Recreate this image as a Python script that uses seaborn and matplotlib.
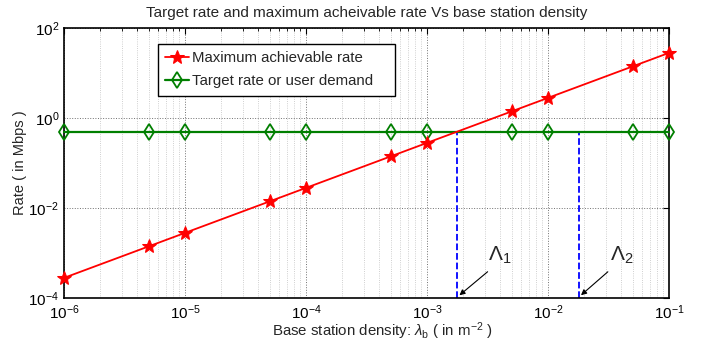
import matplotlib
matplotlib.use("Agg")
import matplotlib.pyplot as plt
import matplotlib.ticker as mticker
import seaborn as sns
import numpy as np

# Data
density = [1e-6, 5e-6, 1e-5, 5e-5, 1e-4, 5e-4, 1e-3, 5e-3, 1e-2, 5e-2, 1e-1]
max_rate = [2.8e-4, 1.4e-3, 2.8e-3, 1.4e-2, 2.8e-2, 0.14, 0.28, 1.4, 2.8, 14, 28]
target_rate = [0.5, 0.5, 0.5, 0.5, 0.5, 0.5, 0.5, 0.5, 0.5, 0.5, 0.5]
lambda_marks = [1.78e-3, 1.8e-2]
lambda_labels = ["Λ$_1$", "Λ$_2$"]
x_ticks = [1e-6, 1e-5, 1e-4, 1e-3, 1e-2, 1e-1]
y_ticks = [1e-4, 1e-2, 1e0, 1e2]

sns.set_theme(style="white")
plt.rcParams['font.family'] = ['Liberation Sans', 'DejaVu Sans']
plt.rcParams['mathtext.fontset'] = 'custom'
plt.rcParams['mathtext.rm'] = 'Liberation Sans'
plt.rcParams['mathtext.it'] = 'Liberation Sans:italic'
plt.rcParams['mathtext.default'] = 'regular'

fig = plt.figure(figsize=(7.02, 3.41), dpi=100)
ax = fig.add_axes([64/702, 1-298/341, 605/702, 270/341])

sns.lineplot(x=density, y=max_rate, ax=ax, color='red', marker='*', markersize=10,
             markeredgecolor='red', markerfacecolor='red', linewidth=1.3,
             label='Maximum achievable rate', clip_on=False, zorder=4)
sns.lineplot(x=density, y=target_rate, ax=ax, color='#007f00', marker='d', markersize=8,
             markeredgecolor='#007f00', markerfacecolor='none', markeredgewidth=1.3,
             linewidth=1.6, label='Target rate or user demand', clip_on=False, zorder=3)

ax.set_xscale('log')
ax.set_yscale('log')
ax.set_xlim(1e-6, 1e-1)
ax.set_ylim(1e-4, 1e2)

# blue dashed verticals
for lm in lambda_marks:
    ax.plot([lm, lm], [1e-4, target_rate[0]], color='blue', linestyle='--', linewidth=1.3, zorder=2)

# annotations
ax.annotate("", xy=(lambda_marks[0], 1.05e-4), xytext=(3.3e-3, 4.2e-4),
            arrowprops=dict(arrowstyle='-|>', color='black', lw=0.8, mutation_scale=8))
ax.annotate("", xy=(lambda_marks[1], 1.05e-4), xytext=(3.25e-2, 4.2e-4),
            arrowprops=dict(arrowstyle='-|>', color='black', lw=0.8, mutation_scale=8))
ax.text(4.0e-3, 9e-4, lambda_labels[0], fontsize=15, ha='center', va='center')
ax.text(4.1e-2, 9e-4, lambda_labels[1], fontsize=15, ha='center', va='center')

ax.xaxis.set_major_locator(mticker.FixedLocator(x_ticks))
ax.xaxis.set_minor_locator(mticker.LogLocator(base=10, subs=np.arange(2, 10), numticks=20))
ax.xaxis.set_major_formatter(mticker.LogFormatterSciNotation())
ax.xaxis.set_minor_formatter(mticker.NullFormatter())
ax.yaxis.set_major_locator(mticker.FixedLocator(y_ticks))
ax.yaxis.set_major_formatter(mticker.LogFormatterSciNotation())
ax.yaxis.set_minor_locator(mticker.NullLocator())

ax.grid(True, which='major', axis='both', color='#707070', linestyle=':', linewidth=0.7)
ax.grid(True, which='minor', axis='x', color='#c0c0c0', linestyle=':', linewidth=0.6)
ax.set_axisbelow(True)

ax.tick_params(which='both', direction='in', top=True, right=True, colors='black',
               labelsize=11)
ax.tick_params(axis='y', pad=3.5)
ax.tick_params(axis='x', pad=4)
ax.tick_params(which='major', length=4, width=0.8)
ax.tick_params(which='minor', length=2.5, width=0.6)
for s in ax.spines.values():
    s.set_color('black')
    s.set_linewidth(1.2)

ax.set_title('Target rate and maximum acheivable rate Vs base station density', fontsize=11, pad=8)
ax.set_xlabel('Base station density: $\\mathit{\\lambda}_b$ ( in m$^{-2}$ )', fontsize=10.8)
ax.xaxis.set_label_coords(0.527, -0.083)
ax.set_ylabel('Rate ( in Mbps )', fontsize=10.5, labelpad=1)

leg = ax.legend(loc='upper left', bbox_to_anchor=(0.155, 0.741, 0.392, 0.2), mode='expand',
                frameon=True, fancybox=False,
                edgecolor='black', fontsize=10.8, handlelength=1.6, handletextpad=0.2,
                borderpad=0.5, labelspacing=0.6, borderaxespad=0)
leg.get_frame().set_linewidth(1.0)
leg.get_frame().set_facecolor('white')
leg.get_frame().set_alpha(1)

fig.savefig('out.png', dpi=100)
